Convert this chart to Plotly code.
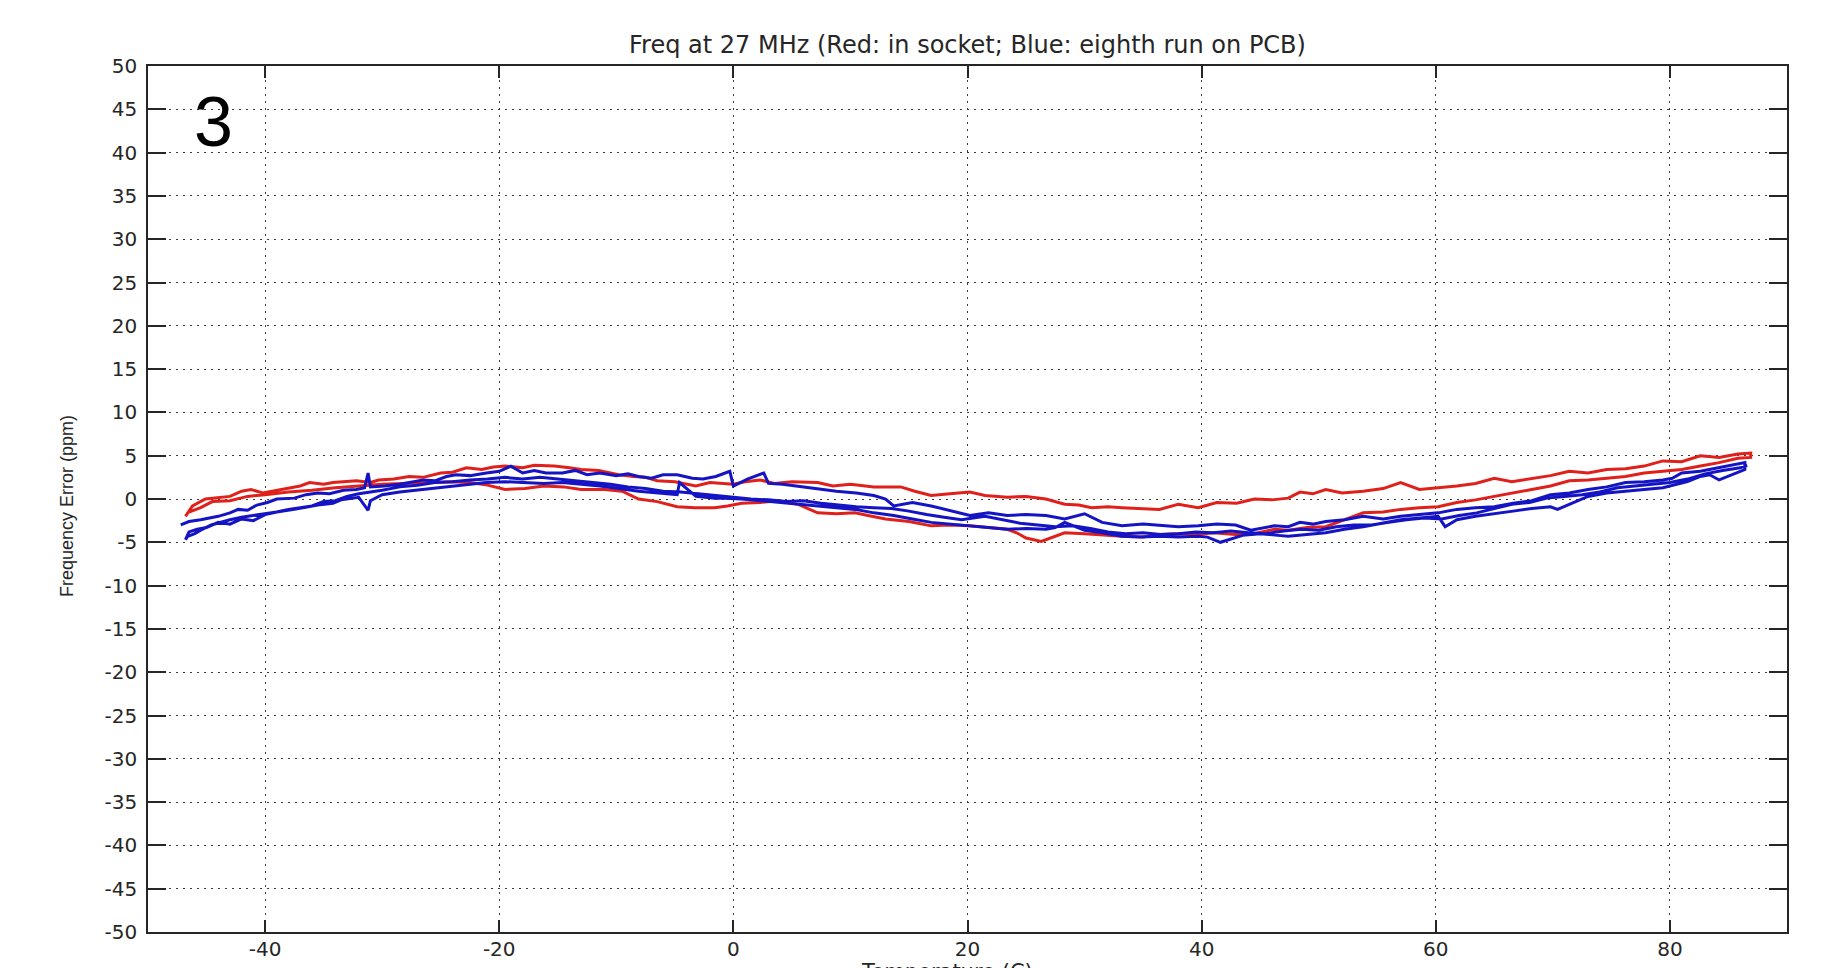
import plotly.graph_objects as go

# ---------------- data ----------------
# Red: in socket (one temperature cycle, up-sweep then down-sweep)
red_up_t = [-46.8, -46.2, -45.1, -44.0, -43.0, -42.0, -41.2, -40.2, -39.0, -38.1, -37.0, -36.2, -35.0, -34.2,
            -33.0, -32.2, -31.0, -30.3, -29.0, -27.7, -26.5, -25.0, -24.0, -22.8, -21.5, -20.5, -19.5, -18.0,
            -17.0, -15.3, -14.0, -13.0, -11.5, -9.8, -8.5, -7.5, -6.5, -5.0, -3.2, -2.0, 0.0, 1.0, 2.3, 3.5,
            5.0, 7.2, 8.5, 10.0, 12.0, 14.3, 15.5, 16.9, 18.5, 20.2, 21.5, 23.4, 25.0, 26.7, 28.3, 29.5, 30.6,
            32.0, 33.2, 35.0, 36.4, 38.0, 39.7, 41.3, 43.0, 44.5, 46.0, 47.4, 48.4, 49.5, 50.6, 52.0, 53.8,
            55.5, 57.0, 58.6, 60.2, 61.8, 63.4, 65.0, 66.5, 68.2, 69.8, 71.4, 73.0, 74.6, 76.2, 77.8, 79.4,
            81.0, 82.6, 84.2, 85.8, 86.9]
red_up_ppm = [-2.0, -0.8, 0.0, 0.2, 0.3, 0.9, 1.1, 0.7, 1.0, 1.3, 1.5, 1.9, 1.7, 1.9,
              2.0, 2.1, 1.9, 2.2, 2.3, 2.6, 2.5, 3.0, 3.1, 3.6, 3.4, 3.7, 3.8, 3.6,
              3.9, 3.8, 3.6, 3.4, 3.3, 2.8, 2.6, 2.5, 2.1, 2.0, 1.5, 1.9, 1.7, 2.0, 2.2, 1.8,
              2.0, 1.9, 1.5, 1.7, 1.4, 1.4, 0.9, 0.4, 0.6, 0.8, 0.4, 0.2, 0.3, 0.0, -0.6, -0.7, -1.0,
              -0.9, -1.0, -1.1, -1.2, -0.6, -1.0, -0.4, -0.5, 0.0, -0.1, 0.1, 0.8, 0.6, 1.1, 0.7, 0.9,
              1.2, 1.9, 1.1, 1.3, 1.5, 1.8, 2.4, 2.0, 2.4, 2.7, 3.2, 3.0, 3.4, 3.5, 3.8, 4.4,
              4.3, 5.0, 4.8, 5.2, 5.3]
red_dn_t = [86.9, 85.8, 84.2, 82.6, 81.0, 79.4, 77.8, 76.2, 74.6, 73.0, 71.4, 69.8, 68.2, 66.6, 65.0, 63.4,
            61.8, 60.2, 58.6, 57.0, 55.5, 53.8, 52.0, 50.6, 49.0, 47.4, 46.2, 44.2, 42.9, 41.0, 39.7, 38.0,
            36.4, 35.0, 33.2, 31.5, 30.0, 28.3, 27.3, 26.3, 25.0, 24.2, 23.4, 22.0, 20.2, 18.5, 16.9, 15.0,
            13.0, 11.5, 10.4, 8.8, 7.2, 5.5, 3.9, 2.3, 0.7, -0.5, -1.6, -2.2, -3.3, -4.8, -6.5, -8.1, -9.5,
            -11.0, -13.0, -14.5, -16.2, -17.8, -19.5, -21.0, -22.5, -24.0, -26.0, -28.0, -30.0, -32.0, -34.0,
            -36.0, -38.0, -40.0, -41.5, -43.0, -44.5, -45.5, -46.5]
red_dn_ppm = [4.8, 4.7, 4.2, 3.8, 3.4, 3.2, 3.0, 2.6, 2.4, 2.2, 2.1, 1.5, 1.1, 0.7, 0.3, -0.1,
              -0.4, -0.9, -1.0, -1.2, -1.5, -1.6, -2.5, -3.2, -3.3, -3.6, -3.5, -4.1, -4.1, -3.9, -4.1, -4.0,
              -4.1, -4.4, -4.3, -4.1, -4.0, -3.9, -4.4, -4.9, -4.5, -3.9, -3.5, -3.3, -3.1, -3.0, -3.1, -2.6,
              -2.3, -1.9, -1.6, -1.7, -1.6, -0.6, -0.2, -0.4, -0.5, -0.8, -1.0, -1.0, -1.0, -0.9, -0.3, 0.0, 0.9,
              1.1, 1.1, 1.4, 1.5, 1.2, 1.1, 1.6, 1.9, 2.0, 1.9, 1.8, 1.7, 1.5, 1.3,
              1.0, 0.8, 0.5, 0.3, -0.2, -0.3, -1.0, -1.5]

# Blue: eighth run on PCB (up-sweep, down-sweep, up-sweep)
blue_a_t = [-47.2, -46.5, -45.5, -44.0, -43.0, -42.3, -41.5, -40.7, -39.8, -39.0, -37.5, -36.5, -35.5, -34.5,
            -33.3, -32.2, -31.5, -31.2, -31.0, -29.8, -28.5, -27.7, -26.5, -25.5, -24.5, -23.7, -22.5, -21.1,
            -20.0, -19.0, -18.0, -17.0, -16.0, -14.6, -13.5, -12.5, -11.4, -10.0, -9.0, -8.1, -7.0, -6.0,
            -4.8, -3.5, -2.6, -1.5, -0.3, 0.0, 1.2, 2.6, 3.0, 4.2, 5.5, 7.0, 8.8, 10.5, 12.0, 13.0, 13.7,
            15.3, 16.9, 18.5, 20.2, 21.8, 23.4, 25.0, 26.7, 28.3, 30.0, 31.5, 33.2, 35.0, 36.4, 38.0, 39.7,
            41.3, 42.9, 44.2, 46.2, 47.4, 48.4, 49.5, 50.6, 52.2, 53.8, 55.5, 57.0, 58.5, 60.2, 61.8, 63.4,
            65.0, 66.6, 68.2, 69.8, 71.4, 73.0, 74.6, 76.2, 77.8, 79.4, 80.2, 81.0, 82.6, 84.2, 85.3, 86.4]
blue_a_ppm = [-3.0, -2.6, -2.4, -2.0, -1.6, -1.2, -1.3, -0.7, -0.4, 0.0, 0.1, 0.5, 0.7, 0.6,
              1.0, 1.1, 1.3, 3.0, 1.4, 1.5, 1.7, 1.9, 2.2, 2.1, 2.6, 2.8, 2.7, 3.0,
              3.2, 3.8, 3.0, 3.3, 3.0, 3.0, 3.3, 2.8, 3.0, 2.7, 2.9, 2.6, 2.4, 2.8,
              2.8, 2.4, 2.3, 2.6, 3.2, 1.5, 2.3, 3.0, 1.8, 1.7, 1.5, 1.2, 0.9, 0.7, 0.4, 0.0, -0.8,
              -0.4, -0.8, -1.3, -1.9, -1.6, -1.9, -1.8, -1.9, -2.3, -1.7, -2.7, -3.1, -2.9, -3.0, -3.2, -3.1,
              -2.9, -3.0, -3.6, -3.1, -3.2, -2.7, -2.9, -2.6, -2.4, -2.0, -2.3, -2.0, -1.8, -1.6, -1.2, -1.0,
              -0.9, -0.5, -0.2, 0.5, 0.7, 1.1, 1.4, 1.9, 2.0, 2.2, 2.4, 3.0, 3.2, 3.6, 3.9, 4.2]
blue_b_t = [86.4, 85.5, 84.2, 83.4, 82.6, 81.5, 80.3, 79.4, 77.8, 76.2, 74.6, 73.0, 71.6, 70.4, 69.8, 68.2,
            66.6, 65.0, 63.4, 61.8, 60.8, 60.2, 58.6, 57.0, 55.4, 53.8, 52.2, 50.6, 49.0, 47.4, 46.5, 45.0,
            43.5, 41.6, 40.5, 39.7, 38.0, 36.4, 34.8, 33.2, 31.5, 30.0, 28.3, 27.5, 26.7, 25.0, 23.4, 21.8,
            20.2, 18.5, 16.9, 15.3, 13.7, 12.0, 10.4, 8.8, 7.2, 5.5, 3.9, 2.3, 0.7, -0.8, -1.6, -3.2, -4.6,
            -4.8, -6.5, -8.1, -9.8, -11.4, -13.0, -14.6, -16.2, -17.8, -19.5, -21.1, -22.5, -24.0, -25.5,
            -27.0, -28.5, -30.0, -31.0, -31.2, -32.0, -33.5, -34.2, -35.5, -37.0, -37.5, -39.0, -40.7, -42.0,
            -43.0, -44.0, -44.6, -45.5, -46.0, -46.6, -46.8]
blue_b_ppm = [3.4, 2.9, 2.2, 2.8, 2.6, 2.0, 1.6, 1.3, 1.1, 0.9, 0.7, 0.3, -0.5, -1.2, -0.9, -1.1,
              -1.4, -1.7, -2.0, -2.4, -3.2, -2.0, -2.2, -2.4, -2.8, -3.2, -3.5, -3.9, -4.1, -4.3, -4.2, -4.0,
              -4.2, -5.0, -4.4, -4.3, -4.4, -4.3, -4.4, -4.3, -3.9, -3.6, -2.7, -3.3, -3.5, -3.4, -3.5, -3.3,
              -3.1, -2.9, -2.7, -2.3, -1.9, -1.6, -1.2, -1.0, -0.8, -0.6, -0.4, -0.2, 0.0, 0.1, 0.1, 0.3, 1.9,
              0.5, 0.7, 0.9, 1.2, 1.5, 1.7, 1.9, 1.8, 1.9, 2.0, 1.9, 1.7, 1.5, 1.2,
              1.0, 0.8, 0.5, -0.2, -1.3, 0.2, -0.1, -0.5, -0.7, -1.1, -1.2, -1.5, -1.8, -2.1,
              -2.4, -2.8, -3.0, -3.6, -4.0, -4.3, -4.7]
blue_c_t = [-46.8, -46.5, -45.8, -45.0, -44.0, -43.0, -42.0, -41.0, -40.0, -39.0, -38.0, -37.0, -36.0, -35.0,
            -34.0, -33.0, -32.0, -31.0, -30.0, -28.5, -27.0, -25.5, -24.0, -22.5, -21.0, -19.5, -18.0, -16.5,
            -15.0, -13.5, -12.0, -10.5, -9.0, -7.5, -6.0, -4.5, -3.0, -1.5, 0.0, 1.5, 3.0, 4.5, 6.0, 7.5, 9.0,
            10.5, 12.0, 13.5, 15.0, 16.5, 18.0, 19.5, 21.5, 23.0, 24.5, 26.0, 27.5, 29.0, 30.5, 32.0, 33.5,
            35.0, 36.5, 38.0, 39.5, 41.0, 42.5, 44.0, 45.5, 47.0, 48.5, 50.0, 51.5, 53.0, 54.5, 56.0, 57.5,
            59.0, 60.5, 62.0, 63.5, 65.0, 66.5, 68.0, 69.5, 71.0, 72.5, 74.0, 75.5, 77.0, 78.5, 80.0, 81.5,
            83.0, 84.5, 86.0, 86.6]
blue_c_ppm = [-4.7, -3.8, -3.5, -3.3, -2.7, -2.9, -2.3, -2.5, -1.8, -1.5, -1.2, -1.0, -0.8, -0.3,
              -0.2, 0.3, 0.6, 0.8, 1.0, 1.4, 1.6, 1.9, 2.0, 2.2, 2.3, 2.5, 2.3, 2.5,
              2.3, 2.1, 1.9, 1.7, 1.4, 1.2, 0.9, 0.8, 0.6, 0.4, 0.2, 0.0, -0.1, -0.3, -0.2, -0.5, -0.7,
              -0.9, -1.0, -1.1, -1.4, -1.8, -2.1, -2.4, -2.0, -2.4, -2.8, -3.0, -3.2, -3.1, -3.4, -3.8, -4.0,
              -3.9, -4.1, -4.0, -3.8, -3.9, -3.7, -3.9, -4.0, -3.7, -3.5, -3.6, -3.2, -3.0, -3.0, -2.7, -2.4,
              -2.2, -2.3, -1.9, -1.6, -1.1, -0.6, -0.4, 0.1, 0.3, 0.5, 0.8, 1.3, 1.5, 1.7, 1.9, 2.3,
              2.9, 3.3, 3.6, 3.9]

x_ticks = [-40, -20, 0, 20, 40, 60, 80]
x_tick_labels = ["-40", "-20", "0", "20", "40", "60", "80"]
y_ticks = [50, 45, 40, 35, 30, 25, 20, 15, 10, 5, 0, -5, -10, -15, -20, -25, -30, -35, -40, -45, -50]
y_tick_labels = ["50", "45", "40", "35", "30", "25", "20", "15", "10", "5", "0", "-5", "-10", "-15",
                 "-20", "-25", "-30", "-35", "-40", "-45", "-50"]

title_text = "Freq at 27 MHz (Red: in socket; Blue: eighth run on PCB)"
x_label = "Temperature (C)"
y_label = "Frequency Error (ppm)"
panel_label = "3"

RED = "#e0201a"
BLUE = "#1414c4"
INK = "#262626"

fig = go.Figure()
fig.add_trace(go.Scatter(x=red_up_t + red_dn_t, y=red_up_ppm + red_dn_ppm, mode="lines",
                         line=dict(color=RED, width=3), showlegend=False))
fig.add_trace(go.Scatter(x=blue_a_t + blue_b_t + blue_c_t, y=blue_a_ppm + blue_b_ppm + blue_c_ppm,
                         mode="lines", line=dict(color=BLUE, width=3), showlegend=False))

axis_common = dict(
    showline=True, linecolor=INK, linewidth=1.6, mirror="ticks",
    ticks="inside", tickcolor=INK, tickwidth=1.6, automargin=False,
    showgrid=True, gridcolor="#3a3a3a", gridwidth=1.2, griddash="2px,5px",
    zeroline=False, tickfont=dict(family="DejaVu Sans", size=20, color=INK),
)

fig.update_layout(
    width=1835, height=968,
    margin=dict(l=148, r=48, t=66, b=36, autoexpand=False),
    paper_bgcolor="white", plot_bgcolor="white",
    title=dict(text=title_text, x=0.5, xref="paper", y=(968 - 45) / 968, yanchor="middle",
               font=dict(family="DejaVu Sans", size=24, color=INK)),
    xaxis=dict(range=[-50, 90], tickvals=x_ticks, ticktext=x_tick_labels, ticklen=12,
               ticklabelstandoff=-2, **axis_common),
    yaxis=dict(range=[-50, 50], tickvals=y_ticks, ticktext=y_tick_labels, ticklen=18,
               ticklabelstandoff=5, **axis_common),
    annotations=[
        dict(text=y_label, xref="paper", yref="paper", x=-0.0494, y=0.492, textangle=-90,
             showarrow=False, xanchor="center", yanchor="middle",
             font=dict(family="Liberation Sans", size=18, color=INK)),
        dict(text=x_label, xref="paper", yref="paper", x=0.4875, y=-0.0302, yanchor="top",
             showarrow=False, xanchor="center",
             font=dict(family="DejaVu Sans", size=21, color=INK)),
        dict(text=panel_label, xref="paper", yref="paper", x=0.0397, y=0.935,
             showarrow=False, xanchor="center", yanchor="middle",
             font=dict(family="Liberation Sans", size=70, color="black")),
    ],
)

fig.write_html("out.html", config={"displayModeBar": False},
               post_script="document.body.style.margin='0';document.body.style.overflow='hidden';")
